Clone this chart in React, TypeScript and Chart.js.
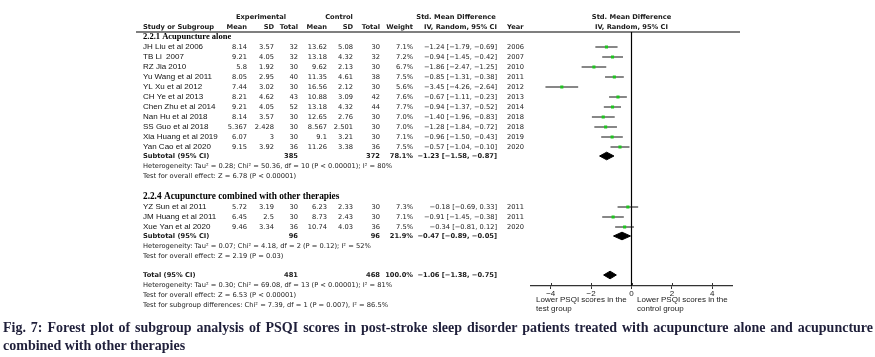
import React, { useEffect, useRef } from "react";
import { Chart, registerables } from "chart.js";

Chart.register(...registerables);

// ---------- data ----------
const studyNames = [
  "JH Liu et al 2006", "TB Li  2007", "RZ Jia 2010", "Yu Wang et al 2011", "YL Xu et al 2012",
  "CH Ye et al 2013", "Chen Zhu et al 2014", "Nan Hu et al 2018", "SS Guo et al 2018",
  "Xia Huang et al 2019", "Yan Cao et al 2020",
  "YZ Sun et al 2011", "JM Huang et al 2011", "Xue Yan et al 2020",
];
const studyGroup = [0, 0, 0, 0, 0, 0, 0, 0, 0, 0, 0, 1, 1, 1];
const expMean = [8.14, 9.21, 5.8, 8.05, 7.44, 8.21, 9.21, 8.14, 5.367, 6.07, 9.15, 5.72, 6.45, 9.46];
const expSD = [3.57, 4.05, 1.92, 2.95, 3.02, 4.62, 4.05, 3.57, 2.428, 3, 3.92, 3.19, 2.5, 3.34];
const expN = [32, 32, 30, 40, 30, 43, 52, 30, 30, 30, 36, 30, 30, 36];
const ctlMean = [13.62, 13.18, 9.62, 11.35, 16.56, 10.88, 13.18, 12.65, 8.567, 9.1, 11.26, 6.23, 8.73, 10.74];
const ctlSD = [5.08, 4.32, 2.13, 4.61, 2.12, 3.09, 4.32, 2.76, 2.501, 3.21, 3.38, 2.33, 2.43, 4.03];
const ctlN = [30, 32, 30, 38, 30, 42, 44, 30, 30, 30, 36, 30, 30, 36];
const weightPct = [7.1, 7.2, 6.7, 7.5, 5.6, 7.6, 7.7, 7.0, 7.0, 7.1, 7.5, 7.3, 7.1, 7.5];
const smd = [-1.24, -0.94, -1.86, -0.85, -3.45, -0.67, -0.94, -1.40, -1.28, -0.96, -0.57, -0.18, -0.91, -0.34];
const ciLow = [-1.79, -1.45, -2.47, -1.31, -4.26, -1.11, -1.37, -1.96, -1.84, -1.50, -1.04, -0.69, -1.45, -0.81];
const ciHigh = [-0.69, -0.42, -1.25, -0.38, -2.64, -0.23, -0.52, -0.83, -0.72, -0.43, -0.10, 0.33, -0.38, 0.12];
const studyYear = [2006, 2007, 2010, 2011, 2012, 2013, 2014, 2018, 2018, 2019, 2020, 2011, 2011, 2020];

const groupTitles = ["2.2.1 Acupuncture alone", "2.2.4 Acupuncture combined with other therapies"];
const subExpN = [385, 96];
const subCtlN = [372, 96];
const subWeight = [78.1, 21.9];
const subSmd = [-1.23, -0.47];
const subLow = [-1.58, -0.89];
const subHigh = [-0.87, -0.05];
const subHeterogeneity = [
  "Heterogeneity: Tau² = 0.28; Chi² = 50.36, df = 10 (P < 0.00001); I² = 80%",
  "Heterogeneity: Tau² = 0.07; Chi² = 4.18, df = 2 (P = 0.12); I² = 52%",
];
const subOverall = [
  "Test for overall effect: Z = 6.78 (P < 0.00001)",
  "Test for overall effect: Z = 2.19 (P = 0.03)",
];

const totalExpN = 481;
const totalCtlN = 468;
const totalWeight = 100.0;
const totalSmd = -1.06;
const totalLow = -1.38;
const totalHigh = -0.75;
const totalNotes = [
  "Heterogeneity: Tau² = 0.30; Chi² = 69.08, df = 13 (P < 0.00001); I² = 81%",
  "Test for overall effect: Z = 6.53 (P < 0.00001)",
  "Test for subgroup differences: Chi² = 7.39, df = 1 (P = 0.007), I² = 86.5%",
];

const xTicks = [-4, -2, 0, 2, 4];
const favoursLeft = ["Lower PSQI scores in the", "test group"];
const favoursRight = ["Lower PSQI scores in the", "control group"];
const caption =
  "Fig. 7: Forest plot of subgroup analysis of PSQI scores in post-stroke sleep disorder patients treated with acupuncture alone and acupuncture combined with other therapies";

// ---------- layout (row units) ----------
type Layout = {
  groupHeader: number[];
  studyRow: number[];
  subRow: number[];
  hetRow: number[];
  testRow: number[];
  totalRow: number;
};
function buildLayout(): Layout {
  const groupHeader: number[] = [];
  const studyRow: number[] = new Array(studyNames.length).fill(0);
  const subRow: number[] = [];
  const hetRow: number[] = [];
  const testRow: number[] = [];
  let cursor = 3;
  for (let g = 0; g < groupTitles.length; g++) {
    groupHeader.push(cursor);
    let r = cursor;
    for (let i = 0; i < studyNames.length; i++) {
      if (studyGroup[i] === g) {
        r += 1;
        studyRow[i] = r;
      }
    }
    const s = r + 0.9;
    subRow.push(s);
    hetRow.push(s + 1);
    testRow.push(s + 2);
    cursor = s + 2 + 2.1;
  }
  const totalRow = testRow[testRow.length - 1] + 1.9;
  return { groupHeader, studyRow, subRow, hetRow, testRow, totalRow };
}

const fmt = (v: number) => (v < 0 ? "\u2212" + Math.abs(v).toFixed(2) : v.toFixed(2));
const ciText = (m: number, l: number, h: number) => `${fmt(m)} [${fmt(l)}, ${fmt(h)}]`;

const TABLE = '"DejaVu Sans", "Lucida Grande", sans-serif';
const NAME = '"Liberation Sans", Arial, sans-serif';
const SERIF = '"Liberation Serif", "Times New Roman", serif';

const COL = {
  name: 143, expMean: 247, expSD: 274, expN: 298, ctlMean: 327, ctlSD: 353, ctlN: 380,
  weight: 413, ci: 497, year: 507, expHead: 261, ctlHead: 339, smdHead: 456,
  lineL: 136, lineR: 740,
};
const DIAMOND_HALF = 0.38;

export default function App() {
  const ref = useRef<HTMLCanvasElement | null>(null);

  useEffect(() => {
    if (!ref.current) return;
    const L = buildLayout();

    const markers = studyNames.map((_, i) => ({ x: smd[i], y: L.studyRow[i] }));
    const ciLines: { x: number; y: number | null }[] = [];
    studyNames.forEach((_, i) => {
      ciLines.push({ x: ciLow[i], y: L.studyRow[i] });
      ciLines.push({ x: ciHigh[i], y: L.studyRow[i] });
      ciLines.push({ x: ciHigh[i], y: null });
    });
    const diamond = (m: number, lo: number, hi: number, r: number) => [
      { x: lo, y: r },
      { x: m, y: r - DIAMOND_HALF },
      { x: hi, y: r },
      { x: m, y: r + DIAMOND_HALF },
      { x: lo, y: r },
    ];
    const diamonds = [
      ...subSmd.map((m, g) => diamond(m, subLow[g], subHigh[g], L.subRow[g])),
      diamond(totalSmd, totalLow, totalHigh, L.totalRow),
    ];

    const tablePlugin = {
      id: "forestTable",
      afterDraw(chart: any) {
        const ctx: CanvasRenderingContext2D = chart.ctx;
        const ys = chart.scales.y;
        const xs = chart.scales.x;
        const Y = (r: number) => ys.getPixelForValue(r);
        const zeroX = xs.getPixelForValue(0);
        const txt = (s: string, x: number, r: number, align: CanvasTextAlign, font: string, color = "#1a1a1a") => {
          ctx.font = font;
          ctx.fillStyle = color;
          ctx.textAlign = align;
          ctx.textBaseline = "middle";
          ctx.fillText(s, x, Y(r));
        };
        ctx.save();
        const hb = `bold 6.7px ${TABLE}`;
        const hn = `6.7px ${TABLE}`;
        // headers
        txt("Experimental", COL.expHead, 1, "center", hb);
        txt("Control", COL.ctlHead, 1, "center", hb);
        txt("Std. Mean Difference", COL.smdHead, 1, "center", hb);
        txt("Std. Mean Difference", zeroX, 1, "center", hb);
        txt("Study or Subgroup", COL.name, 2, "left", hb);
        txt("Mean", COL.expMean, 2, "right", hb);
        txt("SD", COL.expSD, 2, "right", hb);
        txt("Total", COL.expN, 2, "right", hb);
        txt("Mean", COL.ctlMean, 2, "right", hb);
        txt("SD", COL.ctlSD, 2, "right", hb);
        txt("Total", COL.ctlN, 2, "right", hb);
        txt("Weight", COL.weight, 2, "right", hb);
        txt("IV, Random, 95% CI", COL.ci, 2, "right", hb);
        txt("Year", COL.year, 2, "left", hb);
        txt("IV, Random, 95% CI", zeroX, 2, "center", hb);
        // header rule
        ctx.strokeStyle = "#000";
        ctx.lineWidth = 1.2;
        ctx.beginPath();
        ctx.moveTo(COL.lineL, Y(2.5));
        ctx.lineTo(COL.lineR, Y(2.5));
        ctx.stroke();

        // groups
        groupTitles.forEach((title, g) => {
          txt(title, COL.name, L.groupHeader[g], "left", `bold ${g === 0 ? 8.5 : 9.3}px ${SERIF}`, "#000");
          studyNames.forEach((nm, i) => {
            if (studyGroup[i] !== g) return;
            const r = L.studyRow[i];
            txt(nm, COL.name, r, "left", `8px ${NAME}`, "#111");
            txt(String(expMean[i]), COL.expMean, r, "right", hn);
            txt(String(expSD[i]), COL.expSD, r, "right", hn);
            txt(String(expN[i]), COL.expN, r, "right", hn);
            txt(String(ctlMean[i]), COL.ctlMean, r, "right", hn);
            txt(String(ctlSD[i]), COL.ctlSD, r, "right", hn);
            txt(String(ctlN[i]), COL.ctlN, r, "right", hn);
            txt(weightPct[i].toFixed(1) + "%", COL.weight, r, "right", hn);
            txt(ciText(smd[i], ciLow[i], ciHigh[i]), COL.ci, r, "right", hn);
            txt(String(studyYear[i]), COL.year, r, "left", hn);
          });
          const s = L.subRow[g];
          txt("Subtotal (95% CI)", COL.name, s, "left", hb);
          txt(String(subExpN[g]), COL.expN, s, "right", hb);
          txt(String(subCtlN[g]), COL.ctlN, s, "right", hb);
          txt(subWeight[g].toFixed(1) + "%", COL.weight, s, "right", hb);
          txt(ciText(subSmd[g], subLow[g], subHigh[g]), COL.ci, s, "right", hb);
          txt(subHeterogeneity[g], COL.name, L.hetRow[g], "left", hn);
          txt(subOverall[g], COL.name, L.testRow[g], "left", hn);
        });
        // total
        const t = L.totalRow;
        txt("Total (95% CI)", COL.name, t, "left", hb);
        txt(String(totalExpN), COL.expN, t, "right", hb);
        txt(String(totalCtlN), COL.ctlN, t, "right", hb);
        txt(totalWeight.toFixed(1) + "%", COL.weight, t, "right", hb);
        txt(ciText(totalSmd, totalLow, totalHigh), COL.ci, t, "right", hb);
        totalNotes.forEach((n, k) => txt(n, COL.name, t + 1 + k, "left", hn));

        // upward half of tick marks
        const axisY = chart.chartArea.bottom;
        ctx.strokeStyle = "#333";
        ctx.lineWidth = 1;
        xTicks.forEach((v) => {
          const px = Math.round(xs.getPixelForValue(v)) + 0.5;
          ctx.beginPath();
          ctx.moveTo(px, axisY - 3);
          ctx.lineTo(px, axisY);
          ctx.stroke();
        });
        // favours labels
        ctx.font = `8px ${NAME}`;
        ctx.fillStyle = "#1a1a1a";
        ctx.textAlign = "left";
        ctx.textBaseline = "middle";
        favoursLeft.forEach((s, k) => ctx.fillText(s, xs.left + 5.5, axisY + 14 + k * 9));
        favoursRight.forEach((s, k) => ctx.fillText(s, zeroX + 5.5, axisY + 14 + k * 9));
        ctx.restore();
      },
    };

    const chart = new Chart(ref.current, {
      type: "line",
      data: {
        datasets: [
          {
            type: "scatter",
            data: markers,
            pointStyle: "rect",
            pointRadius: 2.2,
            backgroundColor: "#1fc41f",
            borderWidth: 0,
          } as any,
          {
            data: ciLines,
            borderColor: "#111",
            borderWidth: 1.1,
            pointRadius: 0,
            fill: false,
            spanGaps: false,
            tension: 0,
          },
          ...diamonds.map((d) => ({
            data: d,
            borderColor: "#000",
            backgroundColor: "#000",
            borderWidth: 1,
            pointRadius: 0,
            fill: "shape",
            tension: 0,
          })),
          {
            data: [
              { x: 0, y: 2.5 },
              { x: 0, y: 27.9 },
            ],
            borderColor: "#000",
            borderWidth: 1.2,
            pointRadius: 0,
            fill: false,
          },
        ] as any,
      },
      options: {
        animation: false,
        responsive: false,
        layout: { padding: { left: 530.5, right: 142.5, top: 7, bottom: 57 } },
        plugins: { legend: { display: false }, tooltip: { enabled: false } },
        scales: {
          x: {
            type: "linear",
            min: -5,
            max: 5,
            afterBuildTicks: (axis: any) => {
              axis.ticks = xTicks.map((v) => ({ value: v }));
            },
            afterFit: (axis: any) => {
              axis.height = 14;
            },
            grid: { drawOnChartArea: false, drawTicks: true, tickLength: 3, color: "#333" },
            border: { display: true, color: "#333", width: 1.3 },
            ticks: {
              padding: 0,
              color: "#222",
              font: { family: NAME, size: 8 },
              maxRotation: 0,
              callback: (v: any) => (Number(v) < 0 ? "\u2212" + Math.abs(Number(v)) : String(v)),
            },
          },
          y: {
            type: "linear",
            display: false,
            reverse: true,
            min: 0,
            max: 27.9,
          },
        },
      } as any,
      plugins: [tablePlugin],
    });
    return () => chart.destroy();
  }, []);

  return (
    <div style={{ position: "absolute", left: 0, top: 0, width: 875, height: 357, background: "#fff" }}>
      <canvas ref={ref} width={875} height={357} style={{ position: "absolute", left: 0, top: 0 }} />
      <div
        style={{
          position: "absolute",
          left: 3,
          top: 319,
          width: 870,
          font: `bold 14px ${SERIF}`,
          lineHeight: "18px",
          textAlign: "justify",
          color: "#1f1f3a",
        }}
      >
        {caption}
      </div>
    </div>
  );
}
